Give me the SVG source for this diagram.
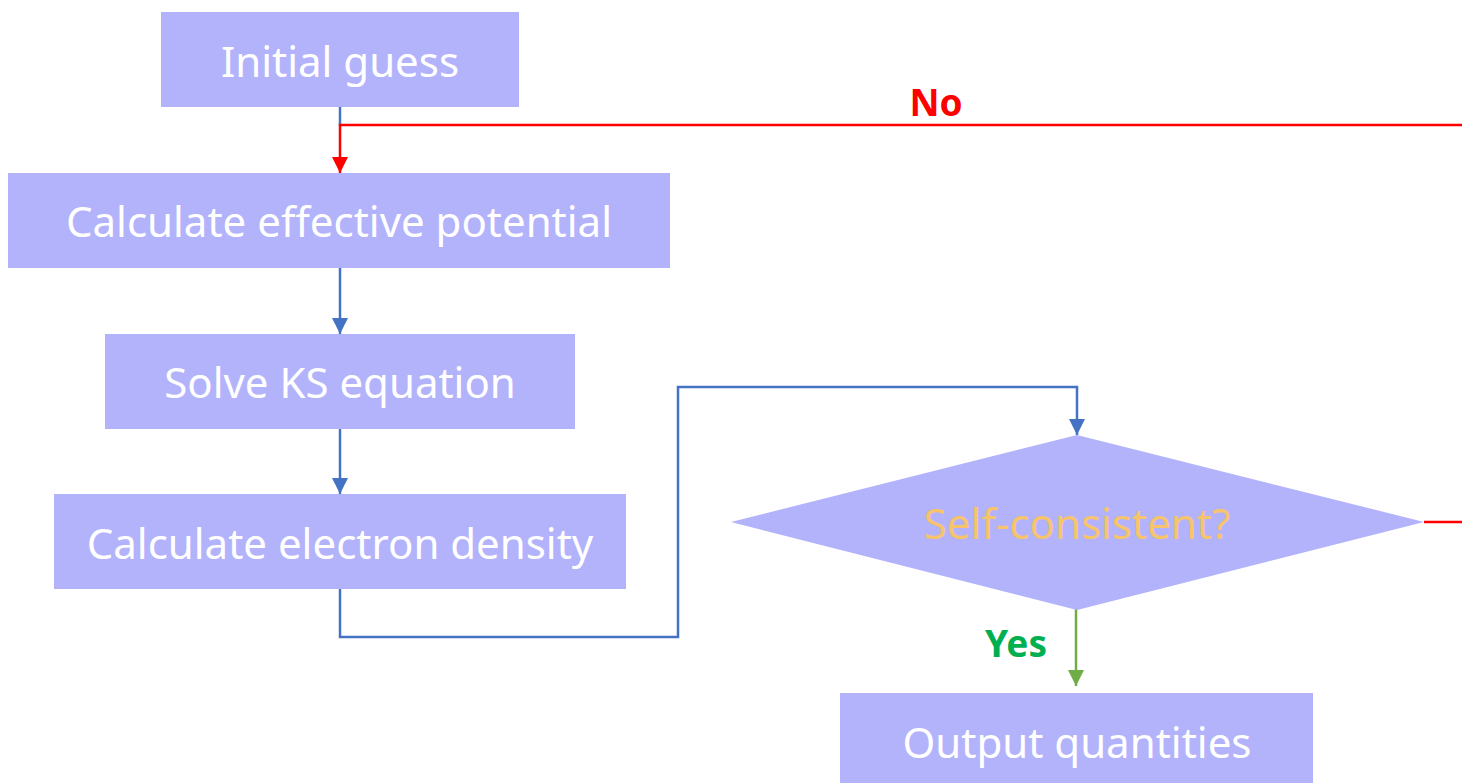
<svg xmlns="http://www.w3.org/2000/svg" width="1462" height="783" viewBox="0 0 1462 783">
<style>
.box{fill:#b3b3fc}
.lbl{font-family:"Noto Sans",sans-serif;font-size:42px;fill:#ffffff;text-anchor:middle;dominant-baseline:central}
.blue{stroke:#4472c4;stroke-width:2.5;fill:none}
.red{stroke:#ff0000;stroke-width:2.5;fill:none}
.green{stroke:#70ad47;stroke-width:2.5;fill:none}
.tag{font-family:"Noto Sans",sans-serif;font-weight:bold;font-size:37px;text-anchor:middle;dominant-baseline:central}
</style>
<defs>
<marker id="ab" markerUnits="userSpaceOnUse" markerWidth="16" markerHeight="16" viewBox="0 0 16 16" refX="16" refY="8" orient="auto"><path d="M0,0 L16,8 L0,16 Z" fill="#4472c4"/></marker>
<marker id="ar" markerUnits="userSpaceOnUse" markerWidth="16" markerHeight="16" viewBox="0 0 16 16" refX="16" refY="8" orient="auto"><path d="M0,0 L16,8 L0,16 Z" fill="#ff0000"/></marker>
<marker id="ag" markerUnits="userSpaceOnUse" markerWidth="16" markerHeight="16" viewBox="0 0 16 16" refX="16" refY="8" orient="auto"><path d="M0,0 L16,8 L0,16 Z" fill="#70ad47"/></marker>
</defs>
<rect width="1462" height="783" fill="#ffffff"/>
<g id="connectors">
<path class="blue" d="M340,107 L340,126"/>
<path class="blue" d="M340,268 L340,334" marker-end="url(#ab)"/>
<path class="blue" d="M340,429 L340,494" marker-end="url(#ab)"/>
<path class="blue" d="M340,589 L340,637 L678,637 L678,387 L1077,387 L1077,435" marker-end="url(#ab)"/>
<path class="red" d="M1424,522 L1462,522"/>
<path class="red" d="M1462,125 L340,125 L340,173" marker-end="url(#ar)"/>
<path class="green" d="M1076,605 L1076,686" marker-end="url(#ag)"/>
<text class="tag" x="936" y="101" fill="#ff0000">No</text>
<text class="tag" x="1016" y="642" fill="#00b050">Yes</text>
</g>
<g id="initial">
<rect class="box" x="161" y="12" width="358" height="95"/>
<text class="lbl" x="340" y="60">Initial guess</text>
</g>
<g id="potential">
<rect class="box" x="8" y="173" width="662" height="95"/>
<text class="lbl" x="339" y="220">Calculate effective potential</text>
</g>
<g id="solve">
<rect class="box" x="105" y="334" width="470" height="95"/>
<text class="lbl" x="340" y="381">Solve KS equation</text>
</g>
<g id="density">
<rect class="box" x="54" y="494" width="572" height="95"/>
<text class="lbl" x="340" y="542">Calculate electron density</text>
</g>
<g id="decision">
<polygon class="box" points="731,522 1077,435 1424,522 1077,610"/>
<text class="lbl" x="1077" y="522" style="fill:#f7c46c">Self-consistent?</text>
</g>
<g id="output">
<rect class="box" x="840" y="693" width="473" height="95"/>
<text class="lbl" x="1077" y="741">Output quantities</text>
</g>
</svg>
